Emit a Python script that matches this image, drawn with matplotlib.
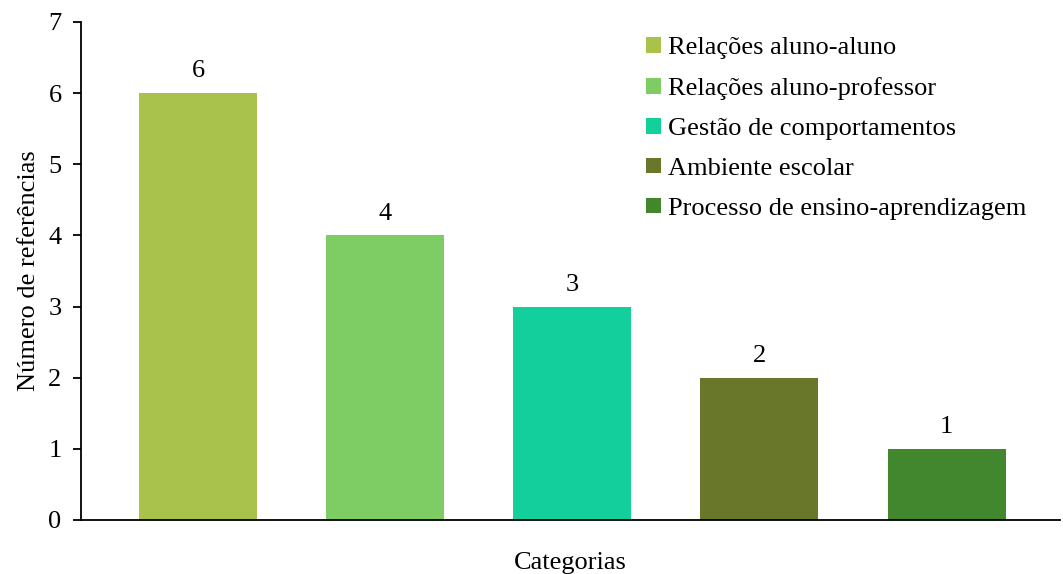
import numpy as np
import matplotlib.pyplot as plt
from matplotlib.patches import Patch

categorias = ["Relações aluno-aluno", "Relações aluno-professor", "Gestão de comportamentos",
              "Ambiente escolar", "Processo de ensino-aprendizagem"]
referencias = [6, 4, 3, 2, 1]
cores = ["#A8C24B", "#7ECC64", "#12CF9B", "#68772A", "#42872D"]

plt.rcParams['font.family'] = ['Liberation Serif', 'DejaVu Serif']

fig = plt.figure(figsize=(10.63, 5.74), dpi=100)
ax = fig.add_axes([81/1063, 54/574, 979/1063, 498/574])

x = np.arange(len(referencias))
bars = ax.bar(x, referencias, width=0.63, color=cores)
for b, v in zip(bars, referencias):
    ax.text(b.get_x() + b.get_width()/2, v + 0.15, str(v), ha='center', va='bottom', fontsize=19)

ax.set_xlim(-0.625, 4.606)
ax.set_ylim(0, 7)
ax.set_yticks(range(8))
ax.set_xticks([])
ax.tick_params(axis='y', labelsize=19, length=6, width=1.3, pad=8)
for s in ['top', 'right']:
    ax.spines[s].set_visible(False)
ax.spines['left'].set_linewidth(1.3)
ax.spines['bottom'].set_linewidth(1.3)

ax.set_ylabel("Número de referências", fontsize=19, va='center')
ax.yaxis.set_label_coords(-0.053, 0.5)
ax.set_xlabel("Categorias", fontsize=19, va='center')
ax.xaxis.set_label_coords(0.5, -0.086)

handles = [Patch(facecolor=c, label=l) for c, l in zip(cores, categorias)]
ax.legend(handles=handles, loc='upper left', bbox_to_anchor=(646/1063, 1 - 37/574),
          bbox_transform=fig.transFigure, frameon=False,
          fontsize=19, handlelength=0.55, handleheight=0.55, handletextpad=0.3,
          labelspacing=0.67, borderaxespad=0.0, borderpad=0.0)

fig.savefig("out.png", dpi=100)
